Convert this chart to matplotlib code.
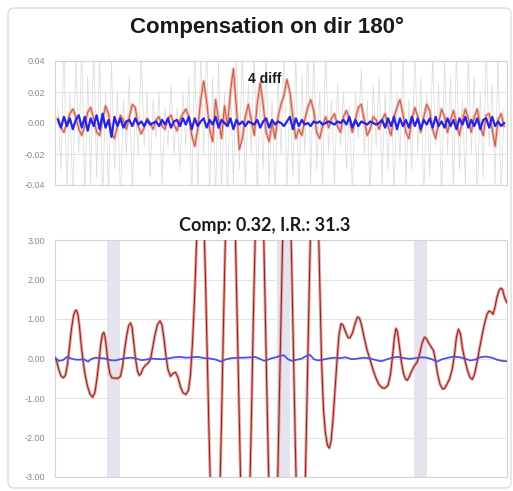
import matplotlib
matplotlib.use('Agg')
import matplotlib.pyplot as plt
import numpy as np
from matplotlib.patches import FancyBboxPatch

# --- upper panel: raw difference, smoothed difference and compensated signal ---
diff_raw = [
    0.010, -0.030, 0.050, -0.045, 0.020, -0.050, 0.045, -0.020, 0.050, -0.050,
    0.030, -0.040, 0.050, -0.035, 0.045, -0.050, 0.020, -0.045, 0.040,
    -0.030, 0.020, -0.050, 0.015, -0.020, 0.030, -0.045, 0.010, -0.020, 0.045,
    -0.015, 0.020, -0.035, 0.015, -0.010, 0.020, -0.040, 0.010, -0.015, 0.025,
    -0.020, 0.010, -0.030, 0.020, -0.015, 0.030, -0.050,
    0.050, -0.050, 0.045, -0.020, 0.050, -0.050, 0.030, -0.050, 0.040, -0.045,
    0.020, -0.050, 0.030, -0.040, 0.045,
    -0.030, 0.050, -0.045, 0.025, -0.020, 0.050, -0.050, 0.020, -0.030, 0.045,
    -0.040, 0.015, -0.050, 0.030, -0.020, 0.050, -0.045, 0.020, -0.035, 0.045,
    -0.050, 0.030, -0.020, 0.050, -0.040,
    0.050, -0.030, 0.020, -0.045, 0.050, -0.020, 0.015, -0.040, 0.025, -0.015,
    0.020, -0.030, 0.010, -0.045, 0.020, -0.010, 0.035, -0.020, 0.015, -0.050,
    0.025, -0.015, 0.030, -0.040, 0.020,
    -0.030, 0.040, -0.050, 0.020, -0.025, 0.045, -0.040, 0.015, -0.030, 0.050,
    -0.020, 0.030, -0.050, 0.020, -0.035, 0.045, -0.015, 0.025, -0.050, 0.040,
    -0.020, 0.030, -0.045, 0.050, -0.030, 0.015, -0.040, 0.045, -0.020, 0.030,
    -0.050, 0.020, -0.035, 0.050, -0.015, 0.025, -0.040, 0.045, -0.050, 0.010,
]

diff_smooth = [
    0.003, -0.003, -0.006, 0.000, 0.006, 0.009, 0.004, -0.004, -0.008, -0.002,
    0.007, 0.010, 0.003, -0.006, -0.008, 0.002, 0.011, 0.006, -0.006, -0.010,
    -0.002, 0.005, 0.002, -0.004, 0.004, 0.012, 0.010, -0.002, -0.007, -0.003,
    0.003, 0.000, -0.004, 0.002, 0.004, -0.002, -0.004, 0.003, 0.005, -0.001,
    -0.005, 0.002, 0.006, 0.009, 0.004, -0.008, -0.015, -0.004, 0.015, 0.027,
    0.014, -0.004, -0.012, 0.015, 0.002, -0.010, 0.011, -0.002, 0.020, 0.035,
    0.010, -0.017, -0.010, 0.004, 0.012, 0.002, -0.008, 0.012, 0.026, 0.012,
    -0.006, -0.012, 0.000, -0.010, 0.004, 0.012, 0.018, 0.028, 0.020, 0.004,
    -0.010, -0.004, -0.008, 0.002, 0.010, 0.015, 0.008, -0.006, -0.010, -0.002,
    0.004, -0.003, 0.003, 0.006, -0.002, -0.006, 0.004, 0.008, 0.002, -0.006,
    0.002, 0.010, 0.012, 0.002, -0.008, -0.004, 0.004, 0.002, -0.004, 0.002,
    0.006, -0.002, -0.008, 0.004, 0.010, 0.015, 0.006, -0.006, -0.010, 0.002,
    0.010, 0.004, -0.006, 0.004, 0.012, 0.008, -0.004, -0.010, 0.000, 0.009,
    0.004, -0.006, 0.002, 0.008, 0.000, -0.008, 0.002, 0.009, 0.003, -0.006,
    0.004, 0.009, -0.002, -0.008, 0.005, 0.006, -0.004, -0.015, 0.002, 0.006,
    -0.002,
]

comp_top = [
    0.002, -0.003, 0.004, -0.002, 0.003, -0.004, 0.002, 0.005, -0.003, 0.004,
    -0.005, 0.003, -0.002, 0.005, -0.004, 0.006, -0.003, 0.002, -0.009, 0.004,
    -0.002, 0.003, -0.003, 0.001, 0.002, -0.002, 0.003, -0.001, 0.001, -0.002,
    0.002, -0.001, 0.000, 0.001, -0.002, 0.002, -0.001, 0.003, -0.003, 0.001,
    0.002, -0.002, 0.003, -0.001, 0.004, -0.004, 0.003, -0.002, 0.001, 0.003,
    -0.003, 0.002, -0.001, 0.004, -0.003, 0.002, 0.000, -0.002, 0.003, -0.004,
    0.002, -0.001, 0.001, -0.002, 0.001, 0.000, -0.001, 0.002, -0.003, 0.001,
    0.003, -0.003, 0.002, -0.001, 0.001, 0.000, -0.002, 0.001, 0.004, -0.004,
    0.003, -0.002, 0.002, -0.001, 0.000, -0.002, 0.001, 0.000, 0.001, -0.001,
    0.000, 0.001, 0.000, -0.001, 0.001, 0.000, 0.002, -0.001, 0.004, -0.003,
    0.002, -0.002, 0.001, 0.000, -0.001, 0.001, 0.000, -0.001, 0.000, 0.002,
    -0.003, 0.003, -0.002, 0.004, -0.004, 0.003, -0.002, 0.002, -0.003, 0.004,
    -0.002, 0.003, -0.004, 0.002, -0.001, 0.003, -0.003, 0.004, -0.002, 0.001,
    -0.003, 0.003, -0.002, 0.002, -0.004, 0.003, -0.001, 0.004, -0.003, 0.002,
    -0.002, 0.003, -0.004, 0.002, 0.003, -0.003, 0.004, -0.002, 0.001, -0.002,
    0.000,
]

# --- lower panel: compensation result as (sample, value) ---
residual = [
    (0, 0.02), (2, -0.10), (4, -0.30), (6, -0.44), (8.3, -0.49), (10.5, -0.42),
    (12.5, -0.15), (14.5, 0.30), (16.5, 0.75), (18.5, 1.08), (20, 1.20),
    (21.5, 1.22), (23, 1.10), (24.5, 0.80), (26, 0.40), (28, -0.05),
    (30, -0.40), (32.5, -0.70), (35, -0.90), (37.7, -0.98), (40, -0.85),
    (42, -0.50), (44.3, 0.00), (46, 0.40), (47.5, 0.62), (48.8, 0.66),
    (50, 0.55), (51.5, 0.25), (53, -0.10), (55, -0.40), (57, -0.49),
    (60, -0.50), (63, -0.50), (65.5, -0.45), (67.5, -0.20), (69.5, 0.20),
    (71.5, 0.55), (73.5, 0.82), (75.5, 0.90), (77, 0.80), (78.5, 0.45),
    (80.5, 0.00), (82.5, -0.32), (84.3, -0.43), (86, -0.38), (88, -0.25),
    (90.5, -0.17), (93, -0.12), (95.5, -0.02), (97.5, 0.25), (100, 0.60),
    (102.5, 0.86), (105, 0.95), (107, 0.85), (109, 0.50), (111, 0.05),
    (113, -0.28), (115.5, -0.45), (118, -0.38), (120.5, -0.35), (123, -0.48),
    (125.5, -0.72), (128, -0.87), (131, -0.91), (133.5, -0.80), (135.5, -0.40),
    (137.5, 0.40), (139.5, 1.50), (141.5, 2.90), (143.5, 4.30), (145.5, 5.20),
    (147, 5.00), (148.5, 3.90), (150.5, 2.00), (152.5, -0.20), (154.5, -2.40),
    (156.5, -4.20), (158.5, -5.50), (160.5, -6.00), (162.5, -5.40),
    (164.5, -3.80), (166.5, -1.60), (168.5, 0.90), (170.5, 3.20),
    (172.5, 5.00), (174.5, 6.00), (176.5, 6.00), (178.5, 4.90), (180.5, 3.00),
    (182.5, 0.60), (184.5, -1.90), (186.5, -4.10), (188.5, -5.60),
    (190.5, -6.10), (192.5, -5.50), (194.5, -3.70), (196.5, -1.40),
    (198.5, 1.20), (200.5, 3.40), (202.5, 5.10), (204.5, 5.80), (206.5, 5.20),
    (208.5, 3.40), (210.5, 0.90), (212.5, -1.60), (214.5, -3.90),
    (216.5, -5.50), (218.5, -6.10), (220.5, -5.30), (222.5, -3.30),
    (224.5, -0.80), (226.5, 1.80), (228.5, 4.10), (230.5, 5.60), (232.5, 5.90),
    (234.5, 4.70), (236.5, 2.60), (238.5, 0.10), (240.5, -2.40),
    (242.5, -4.50), (244.5, -5.80), (246.5, -6.00), (248.5, -5.00),
    (250.5, -2.90), (252.5, -0.40), (254.5, 2.10), (256.5, 4.30),
    (258.5, 5.60), (260.5, 5.70), (262.5, 4.40), (264.5, 2.20), (266.5, 0.00),
    (268.5, -1.30), (270.5, -1.90), (272.5, -2.20), (274.3, -2.27),
    (276, -2.10), (278, -1.55), (280, -0.80), (282, -0.05), (284, 0.60),
    (286, 0.88), (288, 0.85), (290.5, 0.68), (293, 0.53), (295, 0.52),
    (297.5, 0.65), (300, 0.88), (302.5, 1.05), (304.5, 1.02), (306.5, 0.85),
    (309, 0.55), (312, 0.22), (315, -0.02), (318, -0.28), (321, -0.50),
    (324, -0.66), (327, -0.74), (330, -0.75), (333, -0.68), (335.5, -0.40),
    (337.5, 0.05), (339.5, 0.55), (341, 0.76), (342.5, 0.68), (344.5, 0.30),
    (346.5, -0.10), (348.5, -0.38), (350.5, -0.52), (352.3, -0.55),
    (354.5, -0.45), (357, -0.30), (359.5, -0.18), (362, -0.10), (364.5, 0.10),
    (367, 0.38), (369.5, 0.54), (371.5, 0.50), (374, 0.38), (376.5, 0.28),
    (378.5, 0.20), (380.5, -0.05), (382.5, -0.38), (385, -0.65),
    (387.5, -0.77), (389.5, -0.76), (392, -0.65), (394.5, -0.52),
    (397, -0.30), (399.5, 0.10), (401.5, 0.55), (403.5, 0.74), (405.5, 0.62),
    (407.5, 0.25), (410, -0.05), (412.5, -0.30), (415, -0.48), (417.3, -0.53),
    (419.5, -0.40), (422, -0.10), (424.5, 0.25), (427, 0.58), (429.5, 0.88),
    (432, 1.12), (434, 1.20), (436, 1.18), (438, 1.12), (440, 1.30),
    (442, 1.55), (444, 1.72), (445.7, 1.78), (447.5, 1.75), (449.5, 1.55),
    (451.7, 1.42),
]

comp_x = [
    0, 4, 8, 12, 16, 21, 25, 29, 33, 36, 40, 45, 50, 55, 60, 65, 71, 76, 81,
    86, 91, 95, 101, 107, 113, 119, 125, 131, 137, 143, 149, 155, 161, 166,
    171, 177, 183, 189, 195, 200, 205, 209, 213, 217, 221, 225, 229, 233, 237,
    242, 247, 251, 255, 259, 263, 268, 273, 279, 285, 291, 297, 303, 309, 315,
    321, 326, 331, 337, 343, 349, 355, 361, 367, 372, 377, 382, 387, 393, 399,
    405, 411, 415, 420, 425, 431, 437, 442, 447, 452,
]
comp_y = [
    0.02, -0.06, -0.04, 0.04, 0.00, -0.03, -0.03, -0.02, -0.08, -0.02, 0.02,
    0.01, 0.00, -0.04, -0.05, -0.02, 0.01, 0.02, 0.00, -0.04, -0.03, 0.00,
    -0.01, -0.02, 0.00, 0.03, 0.04, 0.02, 0.03, 0.04, 0.01, 0.00, -0.03, -0.08,
    -0.02, 0.01, 0.02, 0.02, 0.03, 0.04, -0.01, -0.06, -0.03, 0.01, 0.03, 0.07,
    0.08, -0.02, -0.06, -0.03, 0.00, 0.06, 0.09, -0.02, -0.05, -0.03, 0.00,
    0.02, 0.01, 0.03, -0.02, 0.00, 0.02, 0.00, -0.04, -0.07, -0.03, 0.02, 0.04,
    0.01, -0.01, 0.01, 0.03, 0.02, -0.02, -0.08, -0.02, 0.02, 0.05, 0.03, -0.01,
    -0.05, -0.03, 0.03, 0.05, 0.02, -0.03, -0.06, -0.07,
]

# sample ranges masked out of the fit
excluded = [(52, 65), (222, 235), (359, 372)]

top_title = '4 diff'
bottom_title = 'Comp: 0.32, I.R.: 31.3'
main_title = 'Compensation on dir 180°'

fig = plt.figure(figsize=(5.13, 4.91), dpi=100)

frame = FancyBboxPatch((8 / 513, 3 / 491), 503 / 513, 480 / 491,
                       boxstyle='round,pad=0,rounding_size=0.012',
                       transform=fig.transFigure, facecolor='white',
                       edgecolor='#d9d9d9', linewidth=0.9, zorder=-5)
fig.patches.append(frame)

fig.text(267 / 513, 1 - 27 / 491, main_title, ha='center', va='center',
         fontsize=16, fontweight='bold', family='Liberation Sans',
         color='#1a1a1a')

tick_color = '#8a8a8a'
grid_color = '#e3e3e3'


def style_axes(ax):
    ax.patch.set_alpha(0)
    for s in ax.spines.values():
        s.set_color('#d4d4d4')
        s.set_linewidth(0.8)
    ax.tick_params(length=0, labelsize=6.5, labelcolor=tick_color, pad=7)
    ax.set_xticks([])
    ax.grid(axis='y', color=grid_color, linewidth=0.8)
    ax.set_axisbelow(True)
    for lbl in ax.get_yticklabels():
        lbl.set_family('Liberation Sans')


# upper panel
ax1 = fig.add_axes([55 / 513, 1 - 185 / 491, 452 / 513, 124 / 491])
n = len(diff_raw)
ax1.plot(np.arange(n), diff_raw, color='#dcdcdc', linewidth=0.55, zorder=2)
ax1.plot(np.arange(len(diff_smooth)), diff_smooth, color='#f0b0a0',
         linewidth=2.2, alpha=0.9, zorder=3)
ax1.plot(np.arange(len(diff_smooth)), diff_smooth, color='#c2574c',
         linewidth=0.7, zorder=4)
ax1.plot(np.arange(len(comp_top)), comp_top, color='#2424e8',
         linewidth=1.6, zorder=5)
ax1.set_xlim(-1, n)
ax1.set_ylim(-0.04, 0.04)
ax1.set_yticks([-0.04, -0.02, 0.0, 0.02, 0.04])
ax1.set_yticklabels(['-0.04', '-0.02', '0.00', '0.02', '0.04'])
style_axes(ax1)
ax1.text(265 / 513, 1 - 79 / 491, top_title, transform=fig.transFigure,
         ha='center', va='center', fontsize=10, fontweight='bold',
         family='Liberation Sans', color='#1a1a1a', zorder=6)

# lower panel
res_x, res_y = zip(*residual)
ax2 = fig.add_axes([55 / 513, 1 - 477 / 491, 452 / 513, 237 / 491])
for a, b in excluded:
    ax2.axvspan(a, b, color='#e5e3ee', linewidth=0, zorder=1)
ax2.plot(res_x, res_y, color='#eb9a92', linewidth=2.2, alpha=0.9, zorder=3)
ax2.plot(res_x, res_y, color='#8a2a28', linewidth=0.8, zorder=4)
ax2.plot(comp_x, comp_y, color='#5050e0', linewidth=1.3, zorder=5)
ax2.set_xlim(0, 452)
ax2.set_ylim(-3, 3)
ax2.set_yticks([-3, -2, -1, 0, 1, 2, 3])
ax2.set_yticklabels(['-3.00', '-2.00', '-1.00', '0.00', '1.00', '2.00', '3.00'])
style_axes(ax2)
fig.text(265 / 513, 1 - 226 / 491, bottom_title, ha='center', va='center',
         fontsize=13, fontweight='bold', family='Lato', color='#1a1a1a')

fig.savefig('out.png', dpi=100)
